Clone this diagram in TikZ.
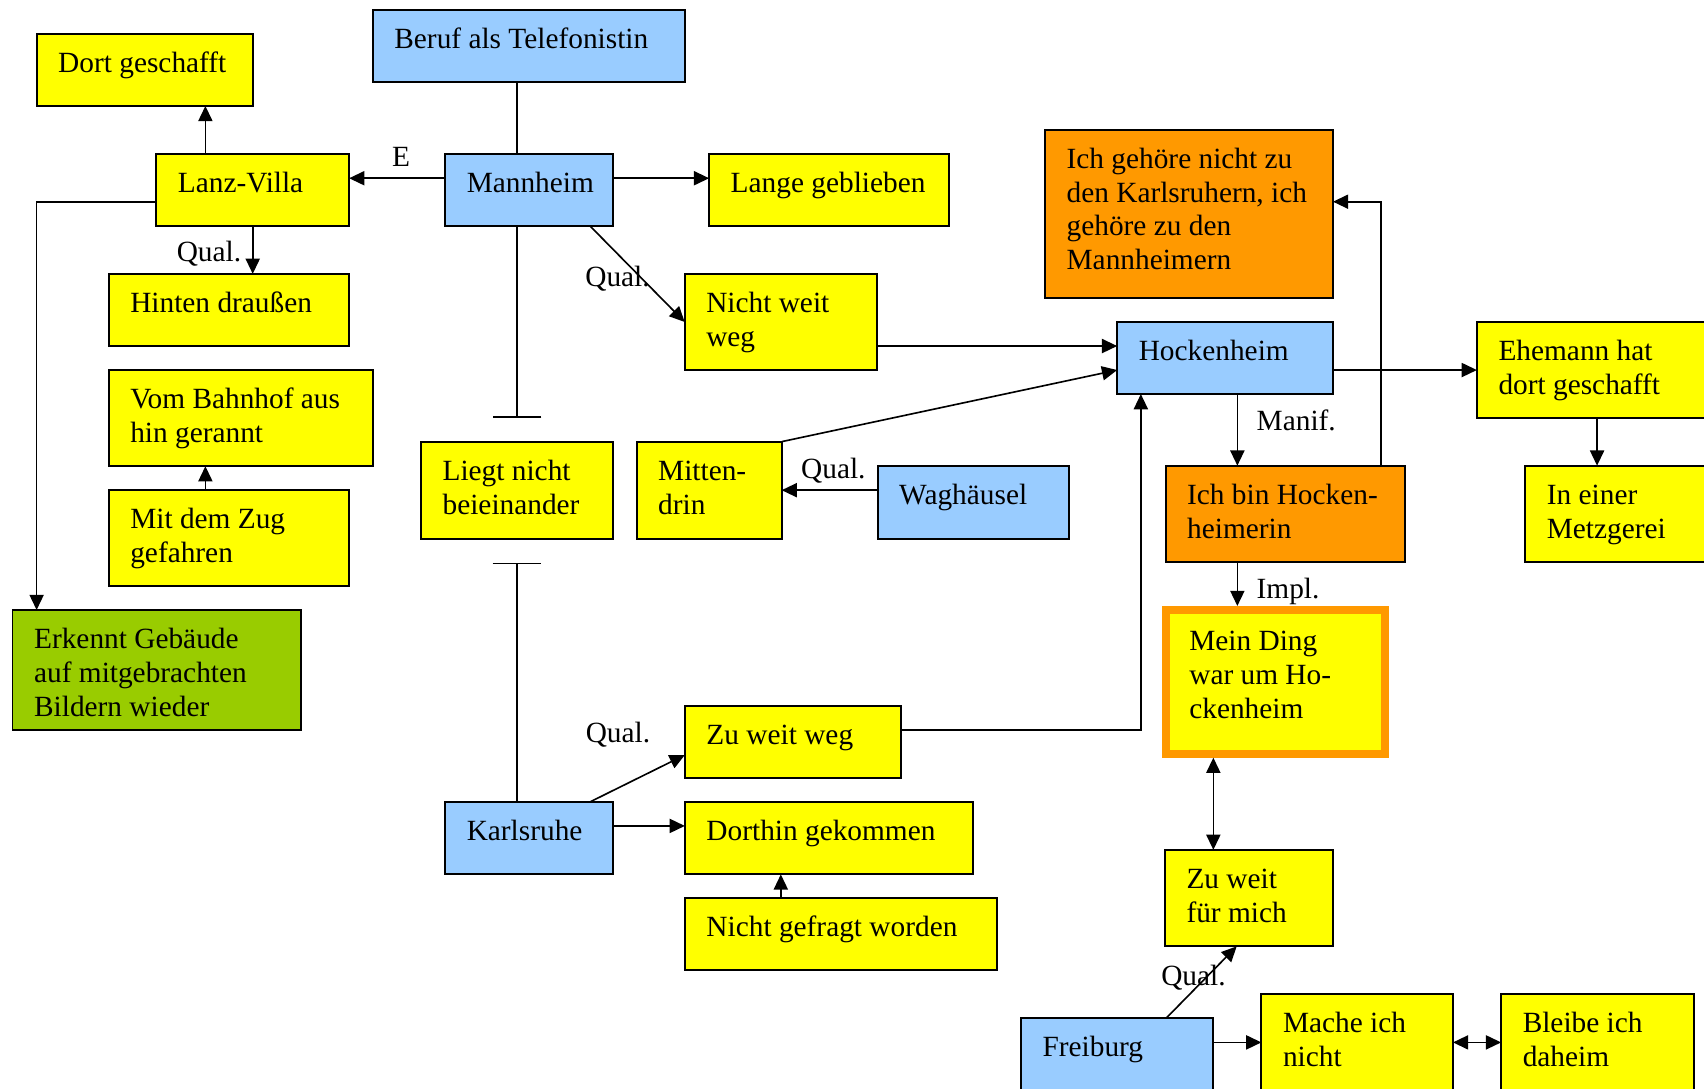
\documentclass[tikz,border=0pt]{standalone}
\usepackage{fontspec}
\setmainfont{Liberation Serif}
\usetikzlibrary{arrows.meta}

\definecolor{boxyellow}{HTML}{FFFF00}
\definecolor{boxblue}{HTML}{99CCFF}
\definecolor{boxorange}{HTML}{FF9900}
\definecolor{boxgreen}{HTML}{99CC00}

\tikzset{
  box/.style={draw=black, line width=0.9pt, rectangle, inner sep=0pt, outer sep=0pt},
  yel/.style={box, fill=boxyellow},
  blu/.style={box, fill=boxblue},
  ora/.style={box, fill=boxorange},
  grn/.style={box, fill=boxgreen},
  txt/.style={inner sep=0pt, anchor=north west, align=left,
              font=\fontsize{13.5pt}{15.6pt}\selectfont},
  lbl/.style={inner sep=0pt, anchor=base west,
              font=\fontsize{13.5pt}{15.6pt}\selectfont},
  conn/.style={line width=0.75pt, draw=black},
  tip/.style={},
  arr/.style={conn, -{Triangle[length=7pt,width=6.5pt]}},
  darr/.style={conn, {Triangle[length=7pt,width=6.5pt]}-{Triangle[length=7pt,width=6.5pt]}},
  tbar/.style={conn, -{Bar[width=22.5pt]}, shorten >=11pt},
}

% box: name, left, top, right, bottom, style, text (top-left aligned)
\newcommand\diabox[7]{%
  \node[#6, minimum width={(#4-#2)*0.5pt}, minimum height={(#5-#3)*0.5pt},
        anchor=north west] (#1) at (#2,#3) {};
  \node[txt] (#1-text) at (#2+19.5,#3+11) {\rule{0pt}{12pt}#7};
}

\begin{document}
\begin{tikzpicture}[x=0.5pt, y=-0.5pt]
  \useasboundingbox (0,0) rectangle (1568,1002);
  \fill[white] (0,0) rectangle (1568,1002);
  \clip (0,0) rectangle (1568,1002);

  % ---- boxes ----
  \diabox{beruf}{343}{9.5}{630.5}{75.5}{blu}{Beruf als Telefonistin}
  \diabox{dort}{33.7}{31}{232.9}{97.5}{yel}{Dort geschafft}
  \diabox{lanz}{143.8}{141.7}{321.3}{208}{yel}{Lanz-Villa}
  \diabox{mann}{409.6}{141.7}{564}{208}{blu}{Mannheim}
  \diabox{lange}{652.5}{141.7}{873.5}{208}{yel}{Lange geblieben}
  \diabox{hinten}{100}{252}{321}{318.5}{yel}{Hinten draußen}
  \diabox{nww}{630}{252}{807}{340.5}{yel}{Nicht weit\\weg}
  \diabox{gehoere}{961.6}{119.3}{1226.6}{274}{ora}{Ich gehöre nicht zu\\den Karlsruhern, ich\\gehöre zu den\\Mannheimern}
  \diabox{hock}{1028}{296.3}{1226.6}{362.6}{blu}{Hockenheim}
  \diabox{ehe}{1359}{296.3}{1585}{384.8}{yel}{Ehemann hat\\dort geschafft}
  \diabox{ineiner}{1403.5}{428.5}{1585}{517.5}{yel}{In einer\\Metzgerei}
  \diabox{vom}{100}{340.5}{343}{429}{yel}{Vom Bahnhof aus\\hin gerannt}
  \diabox{mit}{100}{451}{321}{539.5}{yel}{Mit dem Zug\\gefahren}
  \diabox{erkennt}{11.5}{561.3}{277}{671.8}{grn}{Erkennt Gebäude\\auf mitgebrachten\\Bildern wieder}
  \diabox{liegt}{387.4}{406.7}{564}{495.7}{yel}{Liegt nicht\\beieinander}
  \diabox{mitten}{585.8}{406.4}{719.3}{495.7}{yel}{Mitten-\\drin}
  \diabox{wag}{807.5}{428.5}{983.7}{495.7}{blu}{Waghäusel}
  \diabox{ichbin}{1072.5}{428.5}{1293}{517.5}{ora}{Ich bin Hocken-\\heimerin}
  \diabox{zww}{630.2}{649.4}{829.2}{716.2}{yel}{Zu weit weg}
  \diabox{karl}{409.6}{738}{564}{804.6}{blu}{Karlsruhe}
  \diabox{dorthin}{630.2}{738}{895.6}{804.6}{yel}{Dorthin gekommen}
  \diabox{gefragt}{630.2}{826.7}{917.7}{893}{yel}{Nicht gefragt worden}
  \diabox{zwfm}{1071.9}{782}{1226.8}{870.8}{yel}{Zu weit\\für mich}
  \diabox{frei}{939.5}{937}{1116.5}{1015}{blu}{Freiburg}
  \diabox{mache}{1160.7}{914.7}{1337}{1015}{yel}{Mache ich\\nicht}
  \diabox{bleibe}{1381.3}{914.7}{1558.8}{1015}{yel}{Bleibe ich\\daheim}

  % highlighted box with thick orange frame
  \node[yel, draw=boxorange, line width=3.6pt, outer sep=1.8pt,
        minimum width={(1274.1-1072.6)*0.5pt}, minimum height={(693.6-561.2)*0.5pt},
        anchor=north west] (ding) at (1069,557.6) {};
  \node[txt] (ding-text) at (1094,574) {\rule{0pt}{12pt}Mein Ding\\war um Ho-\\ckenheim};

  % ---- routing guides ----
  \coordinate (xA) at (189,0);
  \coordinate (yE) at (0,164);
  \coordinate (yF) at (0,185.6);
  \coordinate (xF) at (33.7,0);
  \coordinate (xG) at (475.7,0);
  \coordinate (yH) at (0,318.4);
  \coordinate (yI) at (0,340.5);
  \coordinate (xJ) at (1138.6,0);
  \coordinate (xK) at (1271,0);
  \coordinate (xL) at (1469.6,0);
  \coordinate (yM) at (0,671.8);
  \coordinate (xM) at (1049.8,0);
  \coordinate (yN) at (0,760);
  \coordinate (xO) at (718.5,0);
  \coordinate (xP) at (1116.5,0);
  \coordinate (yQ) at (0,959.2);

  % ---- connectors ----
  \draw[arr] (xA |- lanz.north) -- (xA |- dort.south);
  \draw[arr] (mann.west |- yE) -- (lanz.east |- yE);
  \draw[arr] (mann.east |- yE) -- (lange.west |- yE);
  \draw[arr] (lanz.south) -- (lanz.south |- hinten.north);
  \draw[arr] (lanz.west |- yF) -- (xF |- yF) -- (xF |- erkennt.north);
  \draw[arr] (xA |- mit.north) -- (xA |- vom.south);

  \draw[conn] (xG |- beruf.south) -- (xG |- mann.north);
  \draw[tbar] (xG |- mann.south) -- (xG |- liegt.north);
  \draw[tbar] (xG |- karl.north) -- (xG |- liegt.south);

  \draw[arr] ([xshift=-10.5pt]mann.south east) -- (nww.west);
  \draw[arr] (nww.east |- yH) -- (hock.west |- yH);
  \draw[arr] (mitten.north east) -- (hock.west |- yI);
  \draw[arr] (wag.west |- mitten.east) -- (mitten.east);
  \draw[arr] (hock.east |- yI) -- (ehe.west |- yI);
  \draw[arr] (xJ |- hock.south) -- (xJ |- ichbin.north);
  \draw[arr] (xJ |- ichbin.south) -- (xJ |- ding.north);
  \draw[arr] (xK |- ichbin.north) -- (xK |- yF) -- (gehoere.east |- yF);
  \draw[arr] (xL |- ehe.south) -- (xL |- ineiner.north);

  \draw[arr] (zww.east |- yM) -- (xM |- yM) -- (xM |- hock.south);
  \draw[arr] ([xshift=-10.65pt]karl.north east) -- ([yshift=-5.95pt]zww.west);
  \draw[arr] (karl.east |- yN) -- (dorthin.west |- yN);
  \draw[arr] (xO |- gefragt.north) -- (xO |- dorthin.south);

  \draw[darr] (xP |- ding.south) -- (xP |- zwfm.north);
  \draw[arr] ([xshift=66.75pt]frei.north west) -- ([xshift=33.05pt]zwfm.south west);
  \draw[arr] (frei.east |- yQ) -- (mache.west |- yQ);
  \draw[darr] (mache.east |- yQ) -- (bleibe.west |- yQ);

  % ---- connector labels ----
  \node[lbl, anchor=base] (lE) at (369,153.4) {E};
  \node[lbl] (lq1) at (162.3,240.8) {Qual.};
  \node[lbl] (lq2) at (538.2,263.8) {Qual.};
  \node[lbl] (lq3) at (736.8,440.2) {Qual.};
  \node[lbl] (lmanif) at (1156,396.3) {Manif.};
  \node[lbl] (limpl) at (1156,550.6) {Impl.};
  \node[lbl] (lq4) at (538.6,683.4) {Qual.};
  \node[lbl] (lq5) at (1068.2,906.4) {Qual.};
\end{tikzpicture}
\end{document}
